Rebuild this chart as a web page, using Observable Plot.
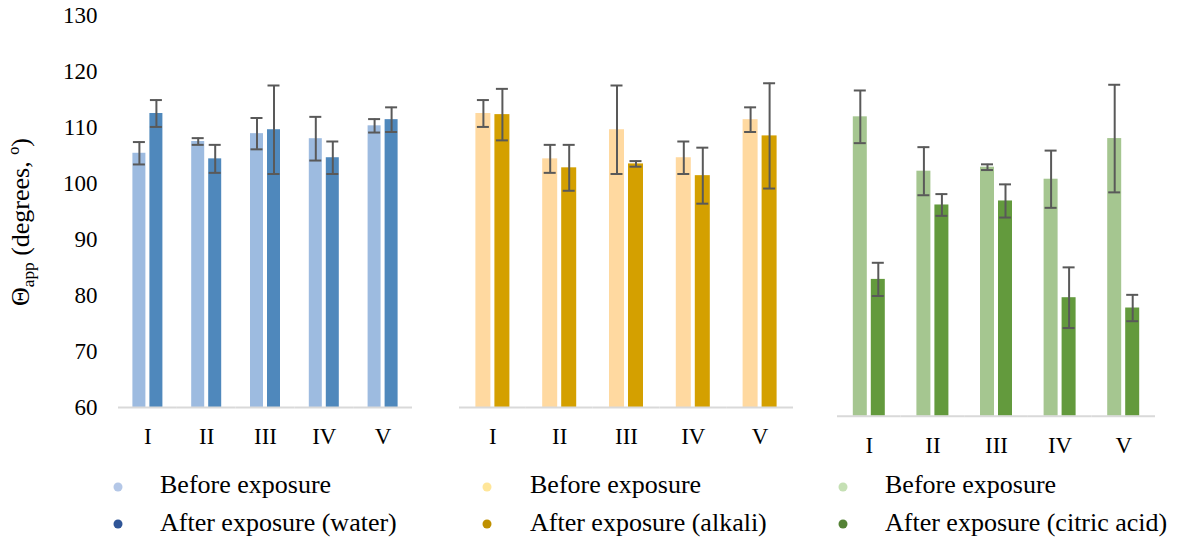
<!DOCTYPE html>
<html><head><meta charset="utf-8">
<script src="https://cdn.jsdelivr.net/npm/d3@7"></script>
<script src="https://cdn.jsdelivr.net/npm/@observablehq/plot@0.6"></script>
<style>
body{margin:0;background:#fff;}
#wrap{position:relative;width:1182px;height:539px;overflow:hidden;font-family:"Liberation Serif","Times New Roman",serif;color:#000;}
.panel{position:absolute;top:0;}
.ytitle{position:absolute;left:23px;top:222px;transform:translate(-50%,-50%) rotate(-90deg);font-size:26px;white-space:nowrap;line-height:1;}
.ytitle sub{font-size:0.66em;vertical-align:-0.3em;}
.leg{position:absolute;font-size:26px;line-height:26px;white-space:nowrap;}
.dot{position:absolute;width:9px;height:9px;border-radius:50%;transform:translate(-50%,-50%);}
</style></head><body><div id="wrap"></div>
<script>
const categories = ["I", "II", "III", "IV", "V"];
const yTicks = [60, 70, 80, 90, 100, 110, 120, 130];

const waterBefore    = [105.4, 107.5, 108.9, 108.0, 110.3];
const waterBeforeErr = [2.0, 0.6, 2.8, 3.9, 1.2];
const waterAfter     = [112.5, 104.4, 109.6, 104.6, 111.4];
const waterAfterErr  = [2.4, 2.5, 7.9, 2.9, 2.2];

const alkaliBefore    = [112.5, 104.4, 109.6, 104.6, 111.4];
const alkaliBeforeErr = [2.4, 2.5, 7.9, 2.9, 2.2];
const alkaliAfter     = [112.3, 102.8, 103.5, 101.4, 108.5];
const alkaliAfterErr  = [4.6, 4.1, 0.5, 5.0, 9.4];

const citricBefore    = [112.3, 102.8, 103.5, 101.4, 108.5];
const citricBeforeErr = [4.6, 4.2, 0.5, 5.0, 9.4];
const citricAfter     = [83.9, 96.9, 97.6, 80.7, 78.9];
const citricAfterErr  = [2.9, 1.9, 2.9, 5.3, 2.3];

const legendLabels = [
  ["Before exposure", "After exposure (water)"],
  ["Before exposure", "After exposure (alkali)"],
  ["Before exposure", "After exposure (citric acid)"]
];

const wrap = document.getElementById("wrap");

function rowsOf(before, beforeErr, after, afterErr) {
  return categories.flatMap((c, i) => [
    {cat: c, series: "before", v: before[i], e: beforeErr[i]},
    {cat: c, series: "after", v: after[i], e: afterErr[i]}
  ]);
}

function panel(rows, o) {
  const chart = Plot.plot({
    width: o.width, height: 460,
    marginLeft: o.marginLeft, marginRight: 0, marginTop: 15, marginBottom: o.marginBottom,
    style: {fontFamily: '"Liberation Serif","Times New Roman",serif', fontSize: "23px", color: "#000", background: "transparent", overflow: "visible"},
    facet: {data: rows, x: "cat"},
    fx: {domain: categories, padding: 0, axis: "bottom", tickSize: 0, tickPadding: 20, label: null, round: false},
    x: {domain: ["before", "after"], axis: null, paddingInner: o.pi, paddingOuter: o.po, round: false},
    y: {domain: [60, 130], ticks: yTicks, axis: o.showY ? "left" : null, tickSize: 0, tickPadding: 21, label: null},
    color: {domain: ["before", "after"], range: o.colors},
    marks: [
      Plot.barY(rows, {x: "series", y1: 60, y2: "v", fill: "series"}),
      Plot.ruleY([60], {stroke: "#d9d9d9", strokeWidth: 2}),
      Plot.ruleX(rows, {x: "series", y1: d => d.v - d.e, y2: d => d.v + d.e, stroke: "#595959", strokeWidth: 2}),
      Plot.tickY(rows, {x: "series", y: d => d.v - d.e, stroke: "#595959", strokeWidth: 2, insetLeft: o.capInset, insetRight: o.capInset}),
      Plot.tickY(rows, {x: "series", y: d => d.v + d.e, stroke: "#595959", strokeWidth: 2, insetLeft: o.capInset, insetRight: o.capInset})
    ]
  });
  chart.classList.add("panel");
  chart.style.left = o.left + "px";
  wrap.appendChild(chart);
}

panel(rowsOf(waterBefore, waterBeforeErr, waterAfter, waterAfterErr),
  {left: 0, width: 412, marginLeft: 118, marginBottom: 53, pi: 0.2353, po: 0.847, capInset: 0.5, showY: true, colors: ["#9dbbe0", "#4f88bc"]});
panel(rowsOf(alkaliBefore, alkaliBeforeErr, alkaliAfter, alkaliAfterErr),
  {left: 459, width: 334, marginLeft: 0, marginBottom: 53, pi: 0.2105, po: 0.863, capInset: 1.5, showY: false, colors: ["#ffd9a0", "#d4a000"]});
panel(rowsOf(citricBefore, citricBeforeErr, citricAfter, citricAfterErr),
  {left: 837, width: 318, marginLeft: 0, marginBottom: 44.3, pi: 0.2222, po: 0.878, capInset: 1, showY: false, colors: ["#a5c690", "#639a3d"]});

// y-axis title
const yt = document.createElement("div");
yt.className = "ytitle";
yt.innerHTML = "Θ<sub>app</sub> (degrees, º)";
wrap.appendChild(yt);

// legends
const legendDots = [["#b4c7e7", "#2f5597"], ["#ffe699", "#bf9000"], ["#c5e0b4", "#548235"]];
const legendPos = [{dx: 118, tx: 160}, {dx: 487, tx: 530}, {dx: 843, tx: 885}];
legendLabels.forEach((labels, k) => {
  labels.forEach((lab, j) => {
    const dot = document.createElement("div");
    dot.className = "dot";
    dot.style.left = legendPos[k].dx + "px";
    dot.style.top = (j === 0 ? 487 : 523.5) + "px";
    dot.style.background = legendDots[k][j];
    wrap.appendChild(dot);
    const t = document.createElement("div");
    t.className = "leg";
    t.style.left = legendPos[k].tx + "px";
    t.style.top = (j === 0 ? 472.2 : 510.2) + "px";
    t.textContent = lab;
    wrap.appendChild(t);
  });
});
</script>
</body></html>
